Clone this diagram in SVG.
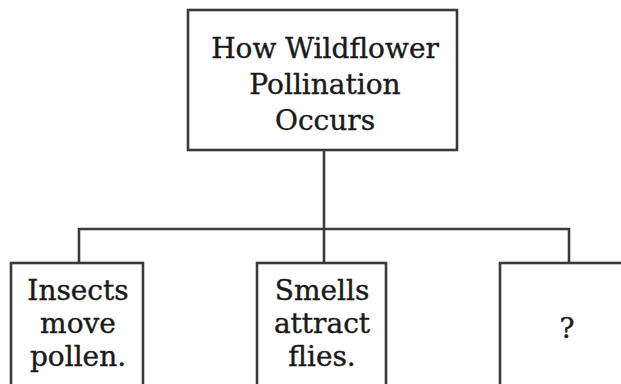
<svg xmlns="http://www.w3.org/2000/svg" width="621" height="384" viewBox="0 0 621 384">
<style>
.box{fill:#fff;stroke:#3a3a3a;stroke-width:2.6}
.ln{fill:none;stroke:#3a3a3a;stroke-width:2.6}
.t{font-family:"DejaVu Serif","Liberation Serif",serif;font-size:28px;fill:#1a1a1a;stroke:#1a1a1a;stroke-width:0.4;text-anchor:middle}
</style>
<rect width="621" height="384" fill="#fff"/>
<g id="connectors">
<path class="ln" d="M324 150V229"/>
<path class="ln" d="M79 263V229H569V263"/>
<path class="ln" d="M324 229V263"/>
</g>
<g id="root">
<rect class="box" x="188" y="10" width="269" height="140"/>
<text class="t" x="325" y="58">How Wildflower</text>
<text class="t" x="325" y="94">Pollination</text>
<text class="t" x="325" y="130">Occurs</text>
</g>
<g id="insects">
<rect class="box" x="11" y="263" width="132" height="130"/>
<text class="t" x="78" y="300">Insects</text>
<text class="t" x="78" y="333">move</text>
<text class="t" x="78" y="366">pollen.</text>
</g>
<g id="smells">
<rect class="box" x="257" y="263" width="129" height="130"/>
<text class="t" x="322" y="300">Smells</text>
<text class="t" x="322" y="333">attract</text>
<text class="t" x="322" y="366">flies.</text>
</g>
<g id="unknown">
<rect class="box" x="500" y="263" width="134" height="130"/>
<text class="t" x="567" y="338">?</text>
</g>
</svg>
